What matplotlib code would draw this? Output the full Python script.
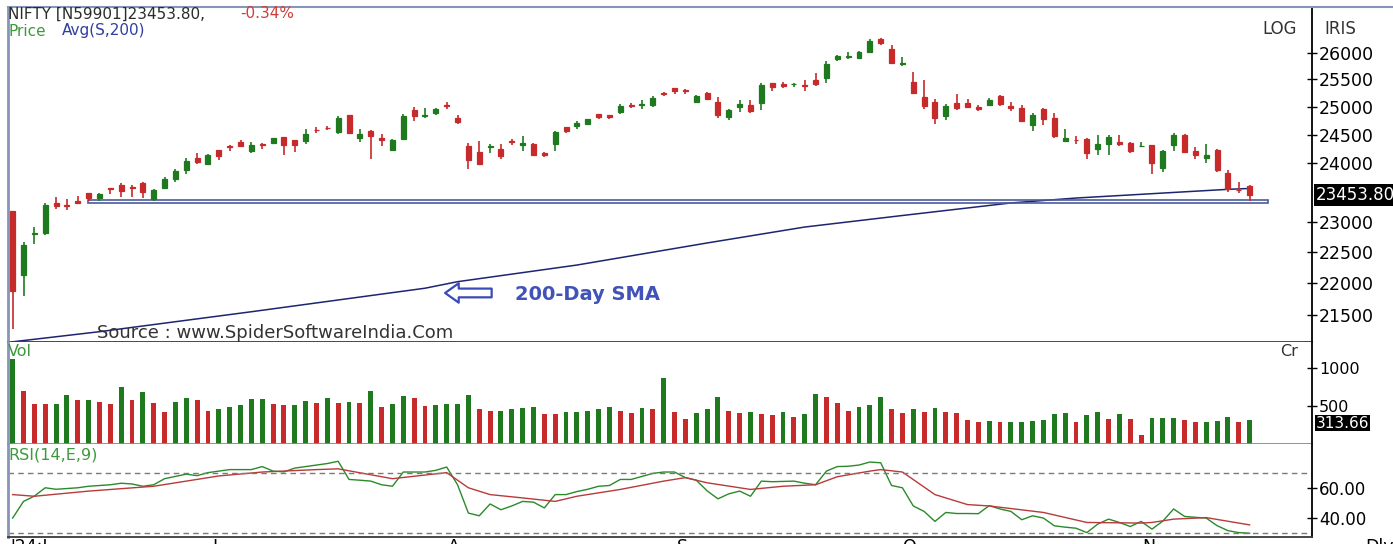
import numpy as np
import matplotlib
matplotlib.use("Agg")
import matplotlib.pyplot as plt
import matplotlib.transforms as mtransforms
from matplotlib.patches import Rectangle
from matplotlib.lines import Line2D
from matplotlib.ticker import NullLocator

# NIFTY daily, 4 Jun 2024 .. 18 Nov 2024
opens = [23179, 22128, 22798, 22821, 23319, 23283, 23344, 23480, 23399, 23574,
         23629, 23586, 23661, 23382, 23577, 23723, 23881, 24085, 23992, 24229,
         24291, 24369, 24213, 24329, 24351, 24459, 24400, 24388, 24590, 24615,
         24543, 24853, 24445, 24568, 24444, 24230, 24424, 24943, 24839, 24886,
         25030, 24790, 24303, 24189, 24289, 24248, 24386, 24320, 24342, 24184,
         24335, 24636, 24649, 24691, 24863, 24845, 24906, 25024, 25030, 25035,
         25249, 25333, 25300, 25089, 25250, 25093, 24823, 24999, 25035, 25059,
         25430, 25406, 25416, 25402, 25488, 25525, 25872, 25921, 25899, 26005,
         26248, 26061, 25788, 25453, 25181, 25084, 24832, 25065, 25067, 25002,
         25024, 25186, 25008, 24983, 24664, 24956, 24798, 24379, 24412, 24418,
         24251, 24328, 24371, 24349, 24302, 24316, 23917, 24308, 24489, 24207,
         24087, 24225, 23822, 23542, 23605]
highs = [23179, 22670, 22910, 23320, 23411, 23389, 23441, 23481, 23490, 23579,
         23664, 23625, 23667, 23558, 23754, 23889, 24087, 24174, 24164, 24236,
         24309, 24401, 24363, 24345, 24443, 24461, 24402, 24592, 24635, 24661,
         24837, 24854, 24595, 24582, 24504, 24426, 24861, 24999, 24971, 24984,
         25078, 24852, 24350, 24382, 24337, 24340, 24419, 24473, 24359, 24196,
         24563, 24638, 24734, 24787, 24867, 24858, 25043, 25074, 25129, 25192,
         25268, 25333, 25321, 25216, 25275, 25168, 24957, 25130, 25113, 25433,
         25430, 25445, 25441, 25482, 25611, 25849, 25956, 26011, 26032, 26250,
         26277, 26135, 25907, 25639, 25485, 25143, 25044, 25234, 25134, 25028,
         25159, 25213, 25093, 25029, 24886, 24978, 24882, 24604, 24480, 24440,
         24492, 24484, 24499, 24372, 24368, 24316, 24229, 24537, 24504, 24276,
         24336, 24242, 23873, 23675, 23630]
lows = [21281, 21791, 22642, 22789, 23207, 23206, 23295, 23354, 23354, 23472,
        23412, 23420, 23398, 23350, 23562, 23673, 23805, 23985, 23992, 24056,
        24207, 24281, 24168, 24240, 24331, 24141, 24193, 24331, 24522, 24587,
        24504, 24508, 24362, 24074, 24307, 24211, 24410, 24742, 24798, 24856,
        24957, 24687, 23893, 23960, 24184, 24079, 24311, 24212, 24116, 24099,
        24204, 24522, 24607, 24669, 24784, 24771, 24874, 24973, 24964, 24998,
        25199, 25235, 25235, 25083, 25127, 24801, 24753, 24896, 24885, 24941,
        25292, 25336, 25352, 25285, 25376, 25426, 25847, 25886, 25872, 25998,
        26151, 25794, 25739, 25230, 24967, 24694, 24756, 24947, 24980, 24920,
        25017, 25008, 24921, 24728, 24567, 24679, 24445, 24378, 24341, 24073,
        24134, 24140, 24307, 24172, 24280, 23816, 23843, 24204, 24179, 24066,
        24004, 23839, 23509, 23484, 23350]
closes = [21884, 22620, 22821, 23290, 23259, 23265, 23323, 23399, 23465, 23557,
          23516, 23567, 23501, 23538, 23721, 23868, 24044, 24010, 24141, 24124,
          24286, 24302, 24324, 24321, 24433, 24324, 24316, 24502, 24586, 24613,
          24800, 24531, 24509, 24479, 24413, 24406, 24834, 24836, 24857, 24951,
          25010, 24718, 24055, 23992, 24297, 24117, 24367, 24347, 24139, 24143,
          24541, 24572, 24698, 24770, 24811, 24823, 25010, 25017, 25052, 25151,
          25235, 25279, 25279, 25198, 25145, 24852, 24936, 25041, 24918, 25388,
          25356, 25383, 25418, 25377, 25416, 25791, 25939, 25940, 26004, 26216,
          26179, 25811, 25797, 25250, 25015, 24796, 25013, 24982, 24998, 24964,
          25128, 25057, 24971, 24750, 24854, 24781, 24472, 24435, 24399, 24181,
          24339, 24466, 24341, 24205, 24304, 23995, 24213, 24484, 24199, 24148,
          24141, 23883, 23559, 23533, 23454]

# volume in Cr, bar colours as drawn in the volume pane
volume = [1112, 691, 520, 520, 529, 651, 577, 577, 555, 529, 748, 577, 678, 542,
          419, 550, 603, 577, 432, 467, 489, 516, 590, 590, 520, 507, 507, 564,
          533, 603, 533, 555, 533, 700, 493, 529, 638, 603,
          502, 516, 529, 529, 651, 454, 432, 432, 454, 480, 489, 397, 397, 419,
          419, 432, 467, 489, 432, 406, 480, 467, 871, 419, 331, 406, 454, 612,
          432, 406, 419, 397, 384, 419, 358, 397, 660, 612,
          542, 432, 493, 507, 612, 467, 406, 454, 419, 480, 419, 406, 318, 296,
          309, 296, 296, 296, 309, 322, 397, 406, 283, 384, 419, 331, 397, 331,
          112, 345, 340, 345, 322, 296, 296, 309, 353, 296, 314]
vol_dir = ("GRRRGGRGRRGRGRRGGRRGGGGGRRGGRGRGRGRGGR"
           "RGGGGRRGGGGRRGGGGGRRGRGRRGGGRRGRRGRGGR"
           "RRGGGRRGRGRRRRGRGGGGGGRGGRGRRGGGRRGGGRG")

# RSI(14) and its 9-period signal
rsi = [40, 51, 54.5, 60, 59, 59.5, 60, 61, 61.5, 62, 63, 62.5, 61, 62, 66, 67.5,
       69, 68, 70, 71, 72, 72, 72, 74, 71, 70.5, 73, 74, 75, 76, 77.5, 65.5, 65,
       64.4, 62, 61, 70.4, 70.4, 70.4, 71.5, 73.7, 62, 43.3, 41.5, 49.3, 45.5,
       48, 51, 50.5, 46.7, 55.5, 55.5, 57.5, 59, 61, 61.5, 65.5, 65.5, 67.5,
       69.5, 70.4, 70.4, 66.7, 65, 58, 52.7, 56, 57.8, 54.4, 64.4, 64, 64.2,
       64.4, 63, 62, 71, 74, 74.2, 75, 77, 76.5, 61.5, 60, 48, 44.4, 37.8, 43.7,
       43, 43, 42.9, 48.2, 46, 44.4, 38.9, 41.5, 40, 34.9, 34, 33.3, 30.4, 36,
       39.3, 37.1, 34.4, 37.8, 32.7, 38, 46, 41.1, 40.5, 40, 35, 31.7, 30.4, 30]
sig_idx = [0, 2, 7, 13, 19, 23, 28, 30, 35, 40, 42, 44, 47, 50, 52, 56, 60, 62,
           64, 68, 71, 74, 76, 79, 80, 82, 85, 88, 90, 95, 99, 104, 105, 107,
           110, 114]
sig_val = [55.5, 54.4, 57.8, 61, 67.8, 70.4, 72, 72.5, 66, 70, 60, 55.5, 53.3,
           51, 54.4, 58.9, 64.4, 66.7, 63.3, 58.9, 61, 62, 67.3, 71, 72, 70.4,
           55.5, 48.9, 48, 43.7, 37.1, 36.7, 37.1, 39.3, 40.3, 35.5]

# 200-day SMA read at a few bars
sma_idx = [0, 8, 22, 38, 41, 52, 64, 73, 82, 92, 98, 112, 114]
sma_val = [21087, 21242, 21551, 21921, 22025, 22292, 22651, 22914, 23106,
           23317, 23400, 23548, 23563]

# horizontal support box drawn on the chart
support_start, support_end = 6.9, 115.7
support_lo, support_hi = 23310, 23372

month_idx = [18, 40, 61, 82, 104]
month_lbl = ["J", "A", "S", "O", "N"]

price_ticks = [21500, 22000, 22500, 23000, 24000, 24500, 25000, 25500, 26000]
last_close = 23453.80
last_vol = 313.66

GREEN = "#1f7a1f"
RED = "#c62a2a"
FRAME = "#8796b6"

W, H = 1393, 544
fig = plt.figure(figsize=(W / 100, H / 100), dpi=100)


def box(l, t, r, b):
    return [l / W, 1 - b / H, (r - l) / W, (b - t) / H]


ax_p = fig.add_axes(box(8, 7, 1312, 342))
ax_v = fig.add_axes(box(8, 342, 1312, 444), sharex=ax_p)
ax_r = fig.add_axes(box(8, 444, 1312, 537), sharex=ax_p)

x = np.arange(len(closes))

# **1. Candles**
for i in x:
    o, h, l, c = opens[i], highs[i], lows[i], closes[i]
    col = GREEN if c >= o else RED
    ax_p.vlines(i, l, h, color=col, lw=1.2, zorder=3)
    ax_p.bar(i, abs(c - o), bottom=min(o, c), width=0.46, color=col,
             edgecolor=col, linewidth=0.9, zorder=4)

ax_p.plot(sma_idx, sma_val, color="#1c2570", lw=1.1, zorder=2)
ax_p.add_patch(Rectangle((support_start, support_lo), support_end - support_start,
                         support_hi - support_lo, fill=False,
                         edgecolor="#4b5b9b", lw=1.2, zorder=2))

ax_p.set_yscale("log")
ax_p.set_ylim(21084, 26871)
ax_p.set_yticks(price_ticks)
ax_p.set_yticklabels([str(t) for t in price_ticks])
ax_p.yaxis.set_minor_locator(NullLocator())

ax_p.annotate("", xy=(39.6, 21846), xytext=(44.4, 21846),
              arrowprops=dict(arrowstyle="simple,head_length=0.7,head_width=1.0,tail_width=0.45",
                              fc="white", ec="#3a4bb5", lw=1.6, mutation_scale=14))
ax_p.text(46.3, 21820, "200-Day SMA", color="#4152b8", fontsize=14,
          fontweight="bold", va="center", ha="left")
ax_p.text((97 - 8) / 1304, 0.028, "Source : www.SpiderSoftwareIndia.Com",
          transform=ax_p.transAxes, fontsize=13, color="#333333",
          va="center", ha="left")

trans_p = mtransforms.blended_transform_factory(ax_p.transAxes, ax_p.transData)
ax_p.text(1.003, last_close, "23453.80", transform=trans_p, color="white",
          fontsize=12, va="center", ha="left", clip_on=False,
          bbox=dict(facecolor="black", edgecolor="none", pad=1.2))

# **2. Volume**
ax_v.bar(x, volume, width=0.45,
         color=[GREEN if d == "G" else RED for d in vol_dir])
ax_v.set_ylim(0, 1342)
ax_v.set_yticks([500, 1000])
ax_v.set_yticklabels(["500", "1000"])
ax_v.annotate("313.66", xy=(1.003, last_vol), xycoords=mtransforms.blended_transform_factory(
                  ax_v.transAxes, ax_v.transData),
              xytext=(0, -3), textcoords="offset pixels", color="white",
              fontsize=11, va="center", ha="left", annotation_clip=False,
              bbox=dict(facecolor="black", edgecolor="none", pad=0.6))

# **3. RSI**
ax_r.plot(x, rsi, color="#2a8a2a", lw=1.0)
ax_r.plot(sig_idx, sig_val, color="#b83a3a", lw=1.0)
for lvl in (70, 30):
    ax_r.axhline(lvl, color="#7a7a7a", lw=1.0, ls=(0, (4, 3)))
ax_r.set_ylim(27.5, 88.9)
ax_r.set_yticks([40, 60])
ax_r.set_yticklabels(["40.00", "60.00"])

trans_r = mtransforms.blended_transform_factory(ax_r.transData, ax_r.transAxes)
ax_r.text(-0.2, -0.01, "'24:J", transform=trans_r, fontsize=12.5,
          va="top", ha="left", clip_on=False)
for idx, lbl in zip(month_idx, month_lbl):
    ax_r.text(idx + 0.7, -0.01, lbl, transform=trans_r, fontsize=12.5,
              va="top", ha="center", clip_on=False)

# **4. Axes styling**
for ax in (ax_p, ax_v, ax_r):
    ax.set_xlim(-0.43, 119.75)
    ax.yaxis.tick_right()
    ax.tick_params(axis="x", bottom=False, labelbottom=False)
    ax.spines["right"].set_color("black")
    ax.spines["right"].set_linewidth(1.3)
    ax.spines["left"].set_color(FRAME)
    ax.spines["left"].set_linewidth(2)
    ax.set_facecolor("white")

ax_p.tick_params(axis="y", direction="inout", length=7, width=1,
                 labelsize=12.5, pad=1.5)
ax_v.tick_params(axis="y", direction="inout", length=7, width=1,
                 labelsize=11.5, pad=1.5)
ax_r.tick_params(axis="y", direction="inout", length=7, width=1,
                 labelsize=12, pad=1.5)

ax_p.spines["top"].set_color(FRAME)
ax_p.spines["top"].set_linewidth(1.5)
ax_p.spines["bottom"].set_color("#3a3a3a")
ax_p.spines["bottom"].set_linewidth(1.3)
ax_v.spines["top"].set_visible(False)
ax_v.spines["bottom"].set_color("#8a8a8a")
ax_v.spines["bottom"].set_linewidth(1.3)
ax_r.spines["top"].set_visible(False)
ax_r.spines["bottom"].set_color("#3a3a3a")
ax_r.spines["bottom"].set_linewidth(1.3)

# frame line running on over the right-hand scale
fig.add_artist(Line2D([1312 / W, 1.0], [1 - 7 / H, 1 - 7 / H], color=FRAME, lw=1.5))


def ftext(px, py, s, **kw):
    fig.text(px / W, 1 - py / H, s, va="center", ha="left", **kw)


ftext(8, 14, "NIFTY [N59901]23453.80,", color="#2b2b2b", fontsize=11)
ftext(240, 14, "-0.34%", color="#d03c3c", fontsize=11)
ftext(8, 31, "Price", color="#3c9a3c", fontsize=11)
ftext(62, 31, "Avg(S,200)", color="#2f3f9f", fontsize=11)
ftext(1262, 29, "LOG", color="#333333", fontsize=12)
ftext(1324, 29, "IRIS", color="#333333", fontsize=12)
ftext(1280, 352, "Cr", color="#333333", fontsize=11.5)
ftext(8, 352, "Vol", color="#3c9a3c", fontsize=11.5)
ftext(8, 455, "RSI(14,E,9)", color="#3c9a3c", fontsize=11.5)
fig.text(1365 / W, 1 - 538 / H, "Dly", va="top", ha="left", fontsize=12.5)

fig.savefig("out.png", dpi=100, facecolor="white")
